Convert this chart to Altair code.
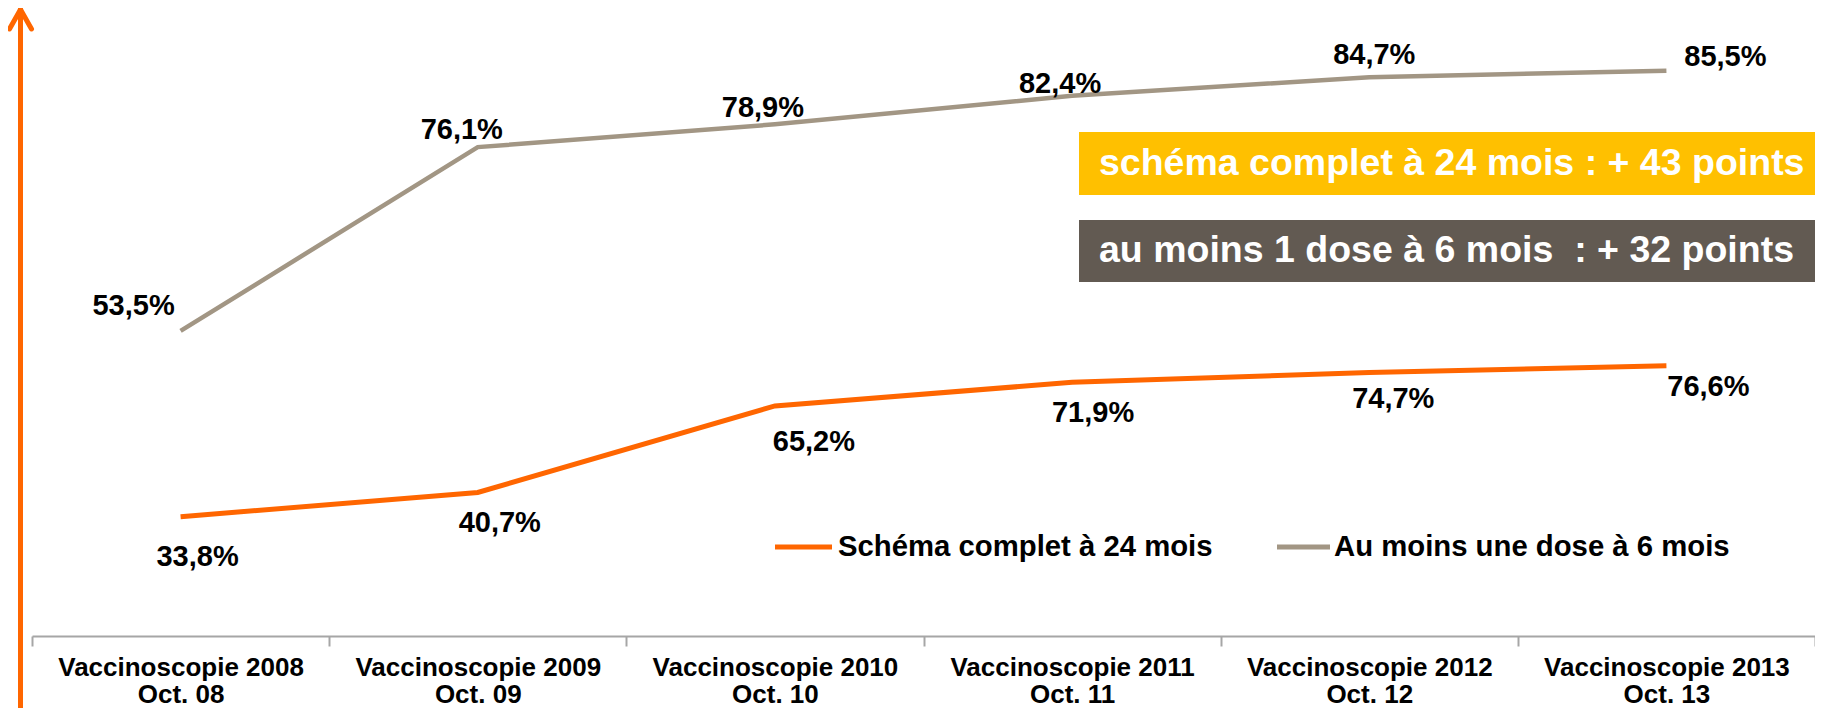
import altair as alt
import pandas as pd

# ---------------- data ----------------
categories = ["Vaccinoscopie 2008", "Vaccinoscopie 2009", "Vaccinoscopie 2010",
              "Vaccinoscopie 2011", "Vaccinoscopie 2012", "Vaccinoscopie 2013"]
periods = ["Oct. 08", "Oct. 09", "Oct. 10", "Oct. 11", "Oct. 12", "Oct. 13"]
schema_complet_24m = [33.8, 40.7, 65.2, 71.9, 74.7, 76.6]
au_moins_1_dose_6m = [53.5, 76.1, 78.9, 82.4, 84.7, 85.5]
series_names = ["Schéma complet à 24 mois", "Au moins une dose à 6 mois"]
box_texts = ["schéma complet à 24 mois : + 43 points",
             "au moins 1 dose à 6 mois \u00a0: + 32 points"]

# ---------------- styling ----------------
ORANGE = "#FF6600"
GREY_LINE = "#A29684"
BOX_GREY = "#625A52"
YELLOW = "#FFC000"
AXIS_GREY = "#A6A6A6"
FONT = "Liberation Sans"

W, H = 1783, 628

keys = [f"{c}|{p}" for c, p in zip(categories, periods)]


def fmt(v):
    return f"{v:.1f}".replace(".", ",") + "%"


df = pd.DataFrame({
    "idx": list(range(len(keys))),
    "cat": keys,
    "orange": schema_complet_24m,
    "grey": au_moins_1_dose_6m,
    "orange_lbl": [fmt(v) for v in schema_complet_24m],
    "grey_lbl": [fmt(v) for v in au_moins_1_dose_6m],
})

x_enc = alt.X(
    "cat:N", sort=keys, bandPosition=0.5,
    scale=alt.Scale(type="band", paddingInner=0, paddingOuter=0),
    axis=alt.Axis(
        title=None, labelAngle=0, grid=False,
        labelExpr="split(datum.label, '|')",
        labelFont=FONT, labelFontSize=26, labelFontWeight="bold", labelColor="#000000",
        labelLineHeight=27, labelPadding=8, labelOverlap=False, labelBound=False,
        labelLimit=0,
        domainColor=AXIS_GREY, domainWidth=2,
        tickColor=AXIS_GREY, tickWidth=2, tickSize=10, tickBand="extent",
    ),
)

y_orange = alt.Y("orange:Q", scale=alt.Scale(domain=[0, 178], nice=False, zero=True), axis=None)
y_grey = alt.Y("grey:Q", scale=alt.Scale(domain=[16.0, 93.2], nice=False, zero=False), axis=None)

base = alt.Chart(df)

# label offsets (style only)
orange_off = [(17, 40), (22, 31), (39, 36), (21, 31), (24, 27), (42, 21)]
grey_off = [(-47, -25), (-16, -17), (-12, -16), (-12, -12), (5, -22), (59, -14)]

orange_line = base.mark_line(color=ORANGE, strokeWidth=5).encode(x=x_enc, y=y_orange)
orange_labels = [
    base.transform_filter(alt.datum.idx == i).mark_text(
        font=FONT, fontSize=29, fontWeight="bold", color="#000000",
        align="center", baseline="middle", dx=dx, dy=dy,
    ).encode(x=x_enc, y=y_orange, text="orange_lbl:N")
    for i, (dx, dy) in enumerate(orange_off)
]
orange_layer = alt.layer(orange_line, *orange_labels)

grey_line = base.mark_line(color=GREY_LINE, strokeWidth=4.5).encode(x=x_enc, y=y_grey)
grey_labels = [
    base.transform_filter(alt.datum.idx == i).mark_text(
        font=FONT, fontSize=29, fontWeight="bold", color="#000000",
        align="center", baseline="middle", dx=dx, dy=dy,
    ).encode(x=x_enc, y=y_grey, text="grey_lbl:N")
    for i, (dx, dy) in enumerate(grey_off)
]
grey_layer = alt.layer(grey_line, *grey_labels)

one = pd.DataFrame({"a": [0]})

# vertical orange arrow on the left
arrow_shaft = alt.Chart(one).mark_rule(color=ORANGE, strokeWidth=5).encode(
    x=alt.value(-11.5), y=alt.value(3), y2=alt.value(700))
arrow_left = alt.Chart(one).mark_rule(color=ORANGE, strokeWidth=5, strokeCap="round").encode(
    x=alt.value(-11.5), y=alt.value(1.5), x2=alt.value(-22.5), y2=alt.value(21))
arrow_right = alt.Chart(one).mark_rule(color=ORANGE, strokeWidth=5, strokeCap="round").encode(
    x=alt.value(-11.5), y=alt.value(1.5), x2=alt.value(-0.5), y2=alt.value(21))

# annotation boxes
box1 = alt.Chart(one).mark_rect(color=YELLOW).encode(
    x=alt.value(1047), x2=alt.value(W), y=alt.value(124), y2=alt.value(187))
box2 = alt.Chart(one).mark_rect(color=BOX_GREY).encode(
    x=alt.value(1047), x2=alt.value(W), y=alt.value(212), y2=alt.value(274))
box1_txt = alt.Chart(pd.DataFrame({"t": [box_texts[0]]})).mark_text(
    font=FONT, fontSize=37.5, fontWeight="bold", color="#FFFFFF",
    align="left", baseline="middle").encode(
    x=alt.value(1067), y=alt.value(156), text="t:N")
box2_txt = alt.Chart(pd.DataFrame({"t": [box_texts[1]]})).mark_text(
    font=FONT, fontSize=37.5, fontWeight="bold", color="#FFFFFF",
    align="left", baseline="middle").encode(
    x=alt.value(1067), y=alt.value(243), text="t:N")

# legend (drawn manually)
leg1_sym = alt.Chart(one).mark_rule(color=ORANGE, strokeWidth=5).encode(
    x=alt.value(743), x2=alt.value(800), y=alt.value(539))
leg2_sym = alt.Chart(one).mark_rule(color=GREY_LINE, strokeWidth=5).encode(
    x=alt.value(1245), x2=alt.value(1298), y=alt.value(539))
leg1_txt = alt.Chart(pd.DataFrame({"t": [series_names[0]]})).mark_text(
    font=FONT, fontSize=29.3, fontWeight="bold", color="#000000",
    align="left", baseline="middle").encode(
    x=alt.value(806), y=alt.value(539), text="t:N")
leg2_txt = alt.Chart(pd.DataFrame({"t": [series_names[1]]})).mark_text(
    font=FONT, fontSize=29.3, fontWeight="bold", color="#000000",
    align="left", baseline="middle").encode(
    x=alt.value(1302), y=alt.value(539), text="t:N")

chart = alt.layer(
    orange_layer, grey_layer,
    arrow_shaft, arrow_left, arrow_right,
    box1, box2, box1_txt, box2_txt,
    leg1_sym, leg2_sym, leg1_txt, leg2_txt,
).resolve_scale(y="independent").properties(
    width=W, height=H,
    autosize=alt.AutoSizeParams(type="none"),
    padding={"left": 24, "top": 0, "right": 0, "bottom": 72},
    background="#FFFFFF",
).configure_view(strokeWidth=0)

chart.save("out.html", embed_options={"renderer": "svg", "actions": False})
